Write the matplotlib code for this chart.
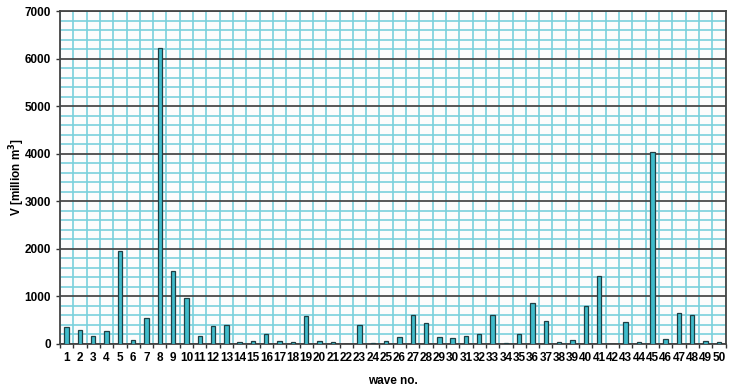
import matplotlib.pyplot as plt
import numpy as np
from matplotlib.ticker import MultipleLocator

plt.rcParams['font.family'] = ['Liberation Sans', 'DejaVu Sans']

# wave numbers and volumes
waves = list(range(1, 51))
volumes = [350, 280, 170, 265, 1950, 70, 550, 6220, 1530, 955,
           170, 370, 390, 25, 55, 200, 50, 40, 575, 50,
           25, 0, 390, 20, 50, 140, 610, 440, 140, 120,
           160, 200, 610, 20, 210, 850, 470, 40, 70, 800,
           1430, 0, 460, 40, 4040, 90, 650, 610, 50, 40]
yTicks = [0, 1000, 2000, 3000, 4000, 5000, 6000, 7000]

fig = plt.figure(figsize=(7.35, 3.89), dpi=100)
ax = fig.add_axes([0.0816, 0.1165, 0.9055, 0.855])
ax.set_facecolor("#fcfcfc")

ax.bar(waves, volumes, width=0.33, color="#3fbccb", edgecolor="#1f3f44", linewidth=0.9, zorder=3)

ax.set_xlim(0.5, 50.5)
ax.set_ylim(0, 7000)
ax.set_xticks(waves)
ax.set_xticks(np.arange(0.5, 51, 1), minor=True)
ax.set_yticks(yTicks)
ax.yaxis.set_minor_locator(MultipleLocator(200))

ax.set_axisbelow(True)
ax.grid(which="minor", axis="x", color="#7ad0dc", linewidth=1.2)
ax.grid(which="minor", axis="y", color="#7ad0dc", linewidth=1.2)
ax.grid(which="major", axis="y", color="#4a4a4a", linewidth=1.3)

ax.tick_params(axis="x", which="major", length=0, pad=6, labelsize=8.5)
ax.tick_params(axis="x", which="minor", length=3, width=1, color="#333333")
ax.tick_params(axis="y", which="major", length=3, width=1, color="#333333", labelsize=8.5)
ax.tick_params(axis="y", which="minor", length=0)
for lbl in ax.get_xticklabels() + ax.get_yticklabels():
    lbl.set_fontweight("bold")

for side in ["top", "right", "bottom", "left"]:
    ax.spines[side].set_color("#444444")
    ax.spines[side].set_linewidth(1.3)

ax.set_xlabel("wave no.", fontsize=8.5, fontweight="bold", labelpad=8)
ax.set_ylabel("V [million m$^\\mathbf{3}$]", fontsize=8.5, fontweight="bold")
ax.yaxis.set_label_coords(-0.05, 0.5)

fig.savefig("out.png", dpi=100)
